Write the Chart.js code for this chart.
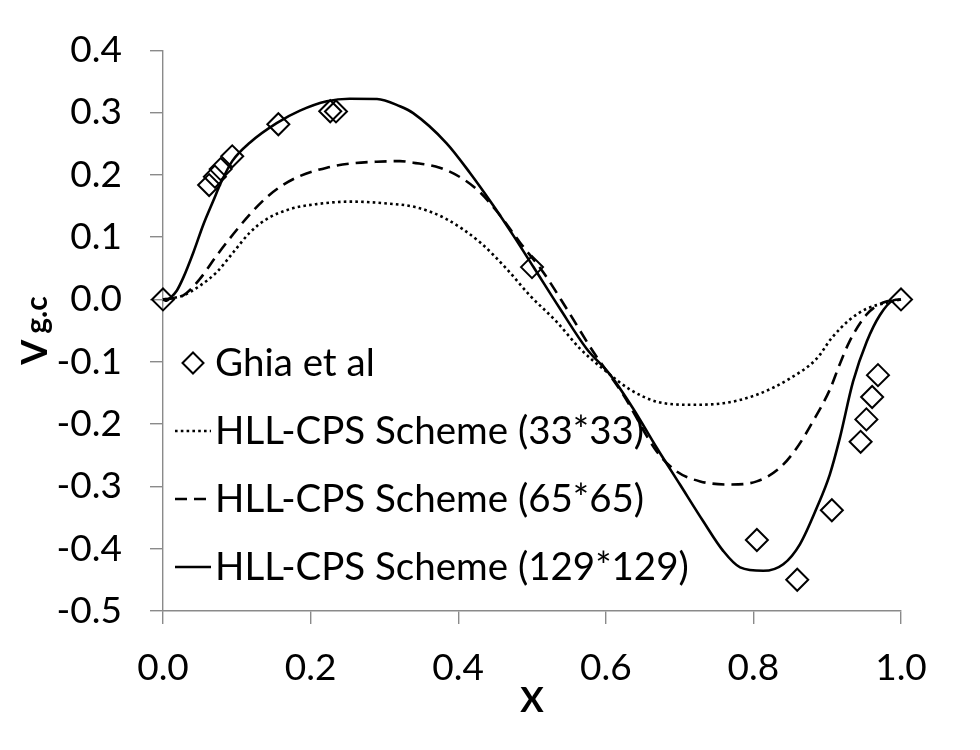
<!DOCTYPE html>
<html>
<head>
<meta charset="utf-8">
<script src="https://cdn.jsdelivr.net/npm/chart.js@4/dist/chart.umd.min.js"></script>
<style>
  html, body { margin: 0; padding: 0; background: #ffffff; }
  #wrap { width: 980px; height: 750px; }
</style>
</head>
<body>
<div id="wrap"><canvas id="c" width="980" height="750"></canvas></div>
<script>
// ---------------- data ----------------
const ghiaX = [0, 0.0625, 0.0703, 0.0781, 0.0938, 0.1563, 0.2266, 0.2344, 0.5, 0.8047, 0.8594, 0.9063, 0.9453, 0.9531, 0.9609, 0.9688, 1.0];
const ghiaV = [0, 0.1836, 0.1971, 0.2092, 0.2297, 0.2812, 0.3020, 0.3017, 0.0519, -0.3860, -0.4499, -0.3383, -0.2285, -0.1925, -0.1566, -0.1215, 0];

const x33 = [0, 0.0275, 0.050, 0.0728, 0.0953, 0.118, 0.1405, 0.172, 0.208, 0.253, 0.2985, 0.344, 0.384, 0.4295, 0.4657, 0.497, 0.5335, 0.565, 0.601, 0.633, 0.669, 0.714, 0.759, 0.8045, 0.8496, 0.886, 0.906, 0.930, 0.9535, 0.9806, 1.0];
const v33 = [0, 0.0065, 0.022, 0.0438, 0.0757, 0.1077, 0.129, 0.145, 0.153, 0.157, 0.1545, 0.1476, 0.129, 0.0917, 0.049, 0.0065, -0.036, -0.0788, -0.116, -0.1447, -0.164, -0.169, -0.1666, -0.153, -0.1267, -0.0947, -0.062, -0.033, -0.0149, -0.0053, 0];

const x65 = [0, 0.0275, 0.050, 0.0728, 0.0953, 0.118, 0.1405, 0.163, 0.1856, 0.222, 0.253, 0.2896, 0.321, 0.339, 0.375, 0.407, 0.4295, 0.452, 0.4837, 0.515, 0.547, 0.583, 0.6237, 0.669, 0.696, 0.728, 0.768, 0.8045, 0.836, 0.8587, 0.881, 0.9035, 0.917, 0.930, 0.9535, 0.976, 1.0];
const v65 = [0, 0.0065, 0.033, 0.0705, 0.105, 0.137, 0.164, 0.184, 0.198, 0.2115, 0.218, 0.221, 0.222, 0.2195, 0.2115, 0.193, 0.172, 0.142, 0.0914, 0.044, -0.015, -0.084, -0.153, -0.244, -0.276, -0.292, -0.297, -0.292, -0.270, -0.2385, -0.195, -0.145, -0.104, -0.068, -0.024, -0.005, 0];

const x129 = [0, 0.005, 0.0095, 0.0186, 0.0275, 0.041, 0.0546, 0.068, 0.0795, 0.0938, 0.118, 0.154, 0.1856, 0.222, 0.253, 0.290, 0.321, 0.339, 0.384, 0.416, 0.448, 0.475, 0.502, 0.538, 0.574, 0.606, 0.637, 0.669, 0.7005, 0.732, 0.759, 0.782, 0.8134, 0.8405, 0.863, 0.886, 0.9035, 0.917, 0.935, 0.9535, 0.9715, 0.9896, 1.0];
const v129 = [0, -0.002, 0.002, 0.014, 0.035, 0.075, 0.120, 0.158, 0.190, 0.222, 0.252, 0.283, 0.303, 0.318, 0.322, 0.3217, 0.310, 0.299, 0.251, 0.203, 0.150, 0.102, 0.052, -0.015, -0.079, -0.121, -0.175, -0.238, -0.297, -0.356, -0.4035, -0.430, -0.4355, -0.425, -0.393, -0.334, -0.281, -0.223, -0.132, -0.068, -0.025, -0.0015, 0];

const seriesLabels = ['Ghia et al', 'HLL-CPS Scheme (33*33)', 'HLL-CPS Scheme (65*65)', 'HLL-CPS Scheme (129*129)'];
const xAxisTitle = 'X';
const yAxisTitleMain = 'V';
const yAxisTitleSub = 'g.c';

// ---------------- helpers ----------------
const pts = (xs, ys) => xs.map((x, i) => ({ x: x, y: ys[i] }));
const fmt = v => (Math.abs(v) < 1e-9 ? 0 : v).toFixed(1);
const AXIS_GREY = '#8a8a8a';

// legend drawn inside the plot (left-middle), like the original
const insideLegend = {
  id: 'insideLegend',
  afterDatasetsDraw(chart) {
    const ctx = chart.ctx;
    const rowsY = [363, 431, 499, 567];
    const sampleL = 175, sampleR = 211, textX = 215;
    ctx.save();
    ctx.font = '38.5px Lato';
    ctx.fillStyle = '#000';
    ctx.textAlign = 'left';
    ctx.textBaseline = 'middle';
    chart.data.datasets.forEach((ds, i) => {
      const y = rowsY[i];
      ctx.save();
      ctx.strokeStyle = '#000';
      if (i === 0) {
        const cx = 193, r = 10.5;
        ctx.lineWidth = 2;
        ctx.beginPath();
        ctx.moveTo(cx - r, y);
        ctx.lineTo(cx, y - r);
        ctx.lineTo(cx + r, y);
        ctx.lineTo(cx, y + r);
        ctx.closePath();
        ctx.stroke();
      } else {
        ctx.lineWidth = ds.borderWidth;
        ctx.setLineDash(ds.borderDash || []);
        ctx.lineCap = ds.borderCapStyle || 'butt';
        ctx.beginPath();
        ctx.moveTo(sampleL, y);
        ctx.lineTo(sampleR, y);
        ctx.stroke();
      }
      ctx.restore();
      ctx.fillText(ds.label, textX, y + 1);
    });
    ctx.restore();
  }
};

// y-axis title with subscript, rotated
const yTitle = {
  id: 'yTitle',
  afterDraw(chart) {
    const ctx = chart.ctx;
    const a = chart.chartArea;
    const cy = (a.top + a.bottom) / 2;
    ctx.save();
    ctx.translate(47, cy);
    ctx.rotate(-Math.PI / 2);
    ctx.fillStyle = '#000';
    ctx.textBaseline = 'alphabetic';
    ctx.textAlign = 'left';
    ctx.font = 'bold 36px Lato';
    const wMain = ctx.measureText(yAxisTitleMain).width;
    ctx.font = 'bold 30px Lato';
    const wSub = ctx.measureText(yAxisTitleSub).width;
    const gap = 6;
    const total = wMain + gap + wSub;
    const x0 = -total / 2;
    ctx.font = 'bold 36px Lato';
    ctx.fillText(yAxisTitleMain, x0, 0);
    ctx.font = 'bold 30px Lato';
    ctx.fillText(yAxisTitleSub, x0 + wMain + gap, 0);
    ctx.restore();
  }
};

const ctx = document.getElementById('c').getContext('2d');
new Chart(ctx, {
  type: 'scatter',
  data: {
    datasets: [
      {
        label: seriesLabels[0],
        data: pts(ghiaX, ghiaV),
        showLine: false,
        pointStyle: 'rectRot',
        pointRadius: 11,
        pointBorderWidth: 2,
        pointBorderColor: '#000',
        pointBackgroundColor: 'rgba(0,0,0,0)',
        clip: false,
        order: 0
      },
      {
        label: seriesLabels[1],
        data: pts(x33, v33),
        showLine: true,
        borderColor: '#000',
        borderWidth: 2.6,
        borderDash: [2.6, 3.2],
        borderCapStyle: 'butt',
        cubicInterpolationMode: 'monotone',
        pointRadius: 0,
        clip: false,
        order: 1
      },
      {
        label: seriesLabels[2],
        data: pts(x65, v65),
        showLine: true,
        borderColor: '#000',
        borderWidth: 2.6,
        borderDash: [12, 7],
        borderCapStyle: 'butt',
        cubicInterpolationMode: 'monotone',
        pointRadius: 0,
        clip: false,
        order: 2
      },
      {
        label: seriesLabels[3],
        data: pts(x129, v129),
        showLine: true,
        borderColor: '#000',
        borderWidth: 2.6,
        cubicInterpolationMode: 'monotone',
        pointRadius: 0,
        clip: false,
        order: 3
      }
    ]
  },
  options: {
    responsive: false,
    animation: false,
    events: [],
    layout: { padding: { left: 0, top: 47, right: 79, bottom: 0 } },
    plugins: {
      legend: { display: false },
      tooltip: { enabled: false },
      title: { display: false }
    },
    scales: {
      x: {
        type: 'linear',
        min: 0,
        max: 1,
        ticks: {
          stepSize: 0.2,
          callback: fmt,
          font: { family: 'Lato', size: 37 },
          color: '#000',
          padding: 22,
          maxRotation: 0
        },
        grid: { drawOnChartArea: false, drawTicks: true, tickLength: 13, color: AXIS_GREY, lineWidth: 1.4 },
        border: { display: true, color: AXIS_GREY, width: 1.4 },
        title: {
          display: true,
          text: xAxisTitle,
          font: { family: 'Lato', size: 35, weight: 'bold' },
          color: '#000',
          padding: { top: 0, bottom: 28 }
        },
        afterFit: s => { s.height = 139; }
      },
      y: {
        type: 'linear',
        min: -0.5,
        max: 0.4,
        ticks: {
          stepSize: 0.1,
          callback: fmt,
          font: { family: 'Lato', size: 37 },
          color: '#000',
          padding: 28
        },
        grid: { drawOnChartArea: false, drawTicks: true, tickLength: 13, color: AXIS_GREY, lineWidth: 1.4 },
        border: { display: true, color: AXIS_GREY, width: 1.4 },
        title: { display: false },
        afterFit: s => { s.width = 163; }
      }
    }
  },
  plugins: [insideLegend, yTitle]
});
</script>
</body>
</html>
